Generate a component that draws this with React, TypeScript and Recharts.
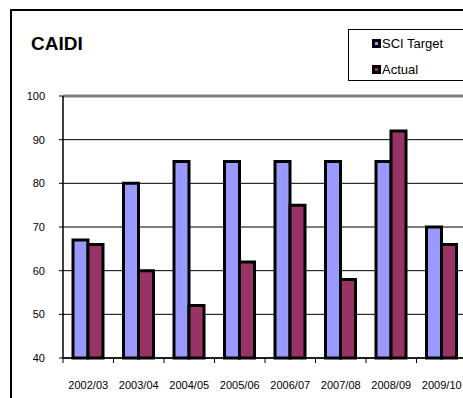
import React from "react";
import {
  BarChart, Bar, XAxis, YAxis, CartesianGrid, Legend, ReferenceLine,
} from "recharts";

const years = ["2002/03", "2003/04", "2004/05", "2005/06", "2006/07", "2007/08", "2008/09", "2009/10"];
const sciTarget = [67, 80, 85, 85, 85, 85, 85, 70];
const actual = [66, 60, 52, 62, 75, 58, 92, 66];
const yTicks = [40, 50, 60, 70, 80, 90, 100];
const boundaryTicks = [0, 1, 2, 3, 4, 5, 6, 7, 8];
const seriesOrder = ["SCI Target", "Actual"];

const data = years.map((year, i) => ({
  year,
  idx: i + 0.5,
  target: sciTarget[i],
  actual: actual[i],
}));

const FONT = "'Liberation Sans', Arial, Helvetica, sans-serif";
const BLUE = "#9999FF";
const PLUM = "#993366";

const NoLabel = () => <g />;

const LegendBox = ({ payload }: { payload?: Array<{ value: string; color: string }> }) => {
  const items = [...(payload || [])].sort(
    (a, b) => seriesOrder.indexOf(a.value) - seriesOrder.indexOf(b.value)
  );
  return (
    <div style={{
      width: 140,
      height: 52,
      border: "1.5px solid #000",
      background: "#fff",
      boxSizing: "border-box",
      fontFamily: FONT,
      fontSize: 13,
      color: "#000",
      paddingTop: 3,
    }}>
      {items.map((p) => (
        <div key={p.value} style={{ display: "flex", alignItems: "center", height: 20, marginBottom: 6 }}>
          <span style={{
            display: "inline-block",
            width: 9,
            height: 9,
            marginLeft: 23,
            marginRight: 1,
            boxSizing: "border-box",
            border: "3px solid #000",
            background: p.color,
          }} />
          <span>{p.value}</span>
        </div>
      ))}
    </div>
  );
};

export default function App() {
  return (
    <div style={{
      position: "absolute", left: 0, top: 0, width: 463, height: 398,
      overflow: "hidden", background: "#fff",
    }}>
      {/* outer chart frame */}
      <div style={{
        position: "absolute", left: 10, top: 9, width: 520, height: 440,
        border: "2px solid #000", boxSizing: "border-box",
      }} />
      <div style={{
        position: "absolute", left: 31, top: 31, fontFamily: FONT,
        fontSize: 19, fontWeight: "bold", color: "#000", lineHeight: "26px",
      }}>
        CAIDI
      </div>
      <div style={{ position: "absolute", left: 0, top: 0 }}>
        <BarChart
          width={467}
          height={398}
          data={data}
          margin={{ top: 96, right: 0, bottom: 0, left: 0 }}
          barGap={0}
          barSize={15}
        >
          <CartesianGrid xAxisId="b_cat" vertical={false} stroke="#000" strokeWidth={1} />
          {/* baseline plus tick marks between categories */}
          <XAxis
            dataKey="idx"
            xAxisId="a_edges"
            type="number"
            domain={[0, 8]}
            ticks={boundaryTicks}
            interval={0}
            height={6}
            axisLine={{ stroke: "#000", strokeWidth: 1.5 }}
            tick={NoLabel}
            tickLine={{ stroke: "#000", strokeWidth: 1 }}
            tickSize={5}
          />
          <XAxis
            dataKey="year"
            xAxisId="b_cat"
            height={34}
            tickLine={false}
            axisLine={false}
            tick={{ fill: "#000", fontSize: 11, fontFamily: FONT }}
            tickMargin={11}
            interval={0}
          />
          <YAxis
            width={63}
            domain={[40, 100]}
            ticks={yTicks}
            interval={0}
            axisLine={{ stroke: "#000", strokeWidth: 1.5 }}
            tickLine={{ stroke: "#000", strokeWidth: 1 }}
            tickSize={4}
            tickMargin={14}
            tick={{ fill: "#000", fontSize: 11, fontFamily: FONT }}
          />
          <ReferenceLine xAxisId="b_cat" y={100} stroke="#808080" strokeWidth={3} />
          <Legend
            layout="vertical"
            align="center"
            verticalAlign="middle"
            wrapperStyle={{ top: 29, left: 348, width: 140 }}
            content={<LegendBox />}
          />
          <Bar xAxisId="b_cat" dataKey="target" name="SCI Target" fill={BLUE} stroke="#000" strokeWidth={3} isAnimationActive={false} />
          <Bar xAxisId="b_cat" dataKey="actual" name="Actual" fill={PLUM} stroke="#000" strokeWidth={3} isAnimationActive={false} />
        </BarChart>
      </div>
    </div>
  );
}
